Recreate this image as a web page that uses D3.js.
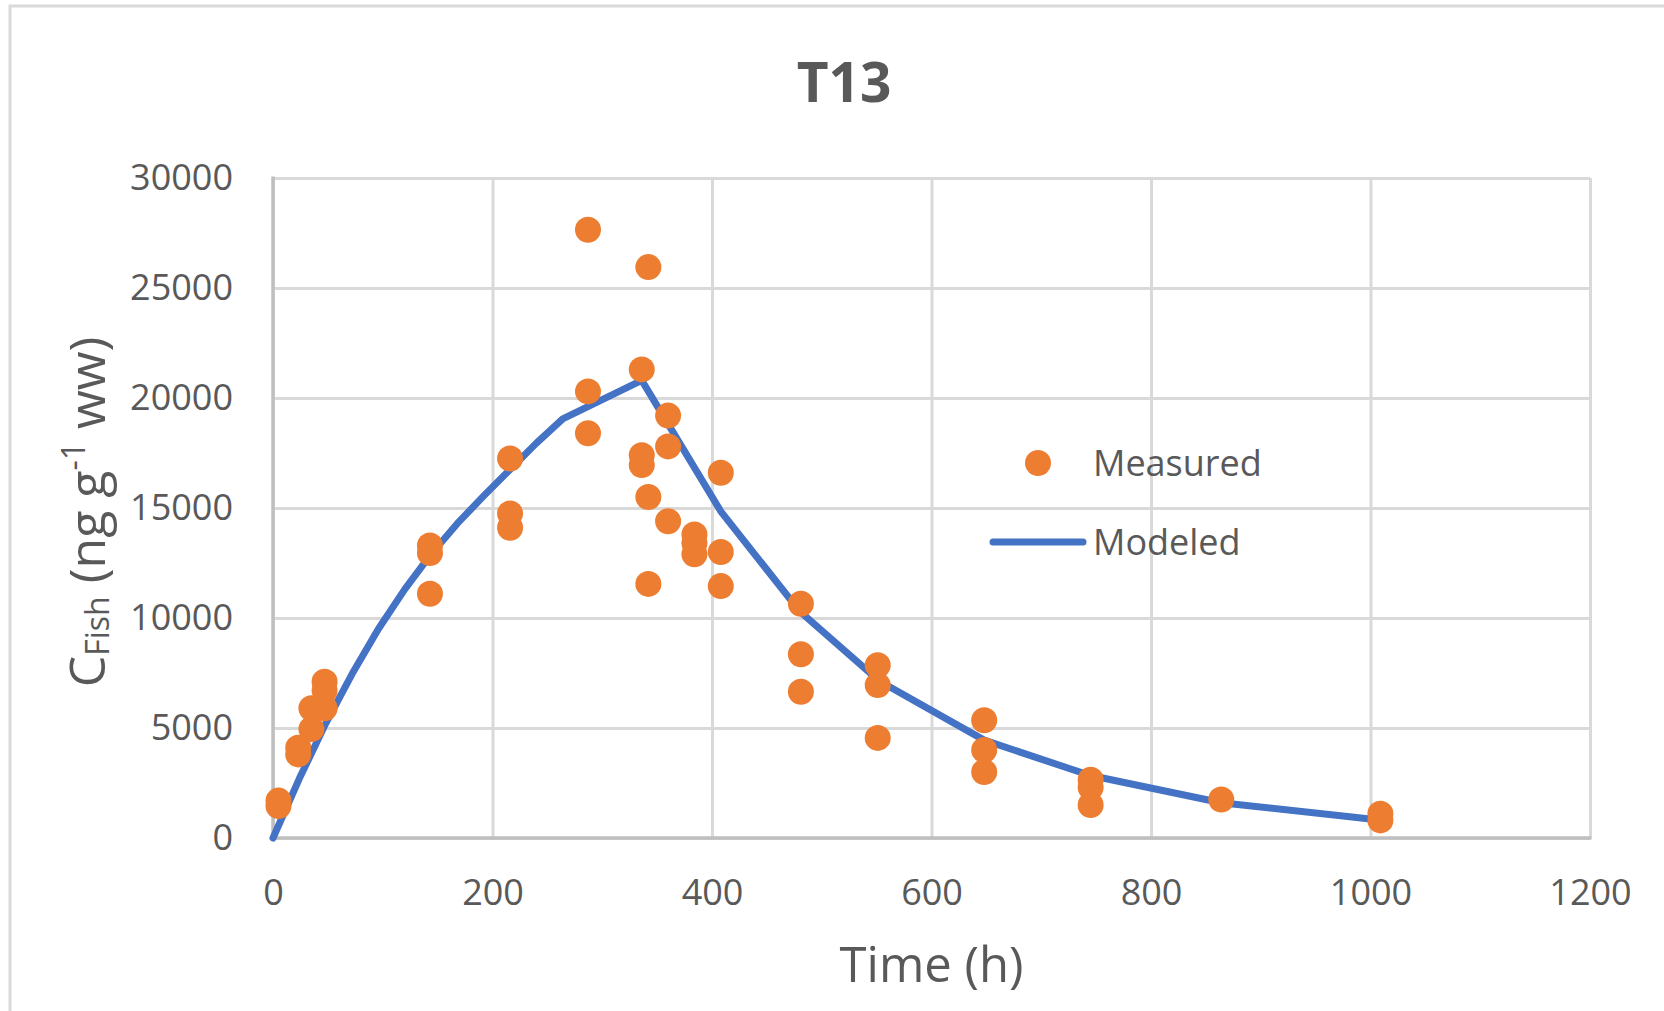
<!DOCTYPE html>
<html><head><meta charset="utf-8">
<script src="https://cdn.jsdelivr.net/npm/d3@7"></script>
<style>
body{margin:0;background:#fff;}
svg text{font-family:"Open Sans","Noto Sans",sans-serif;}
</style>
</head><body>
<svg id="chart" width="1664" height="1011"></svg>
<script>
// ---- data ----
const chartTitle = "T13";
const xAxisTitle = "Time (h)";
const xTicks = [0, 200, 400, 600, 800, 1000, 1200];
const yTicks = [0, 5000, 10000, 15000, 20000, 25000, 30000];
const seriesNames = ["Measured", "Modeled"];

const measuredTime = [5, 5, 23, 23, 35, 35, 47, 47, 47,
  143, 143, 143, 216, 216, 216, 287, 287, 287,
  336, 336, 336, 342, 342, 342, 360, 360, 360,
  384, 384, 384, 408, 408, 408, 481, 481, 481,
  551, 551, 551, 648, 648, 648, 745, 745, 745,
  864, 1009, 1009];
const measuredValue = [1700, 1450, 4100, 3800, 4950, 5900, 7100, 6700, 5900,
  13300, 12950, 11100, 17250, 14750, 14100, 27650, 20300, 18400,
  21300, 17400, 16950, 25950, 15500, 11550, 19200, 17800, 14400,
  13800, 13400, 12900, 16600, 13000, 11450, 10650, 8350, 6650,
  7850, 6950, 4550, 5350, 4000, 3000, 2650, 2300, 1500,
  1750, 1100, 800];

const modeledTime = [0, 24, 48, 72, 96, 120, 144, 168, 192, 216, 240, 264,
  336, 408, 480, 552, 648, 744, 864, 1008];
const modeledValue = [0, 2700, 5200, 7450, 9500, 11300, 12900, 14300, 15550, 16750, 17950, 19050,
  20800, 14850, 10300, 7150, 4450, 2850, 1600, 820];

// ---- layout ----
const svg = d3.select("#chart");
const pL = 273, pR = 1590, pT = 178, pB = 838;
const x = d3.scaleLinear().domain([0, 1200]).range([pL, pR]);
const y = d3.scaleLinear().domain([0, 30000]).range([pB, pT]);
const orange = "#ED7D31", blue = "#4472C4", textCol = "#595959";

// outer chart border
svg.append("rect").attr("x", 10).attr("y", 6).attr("width", 1700).attr("height", 1100)
  .attr("fill", "#fff").attr("stroke", "#D9D9D9").attr("stroke-width", 3);

// gridlines
const gy = svg.append("g").attr("transform", `translate(${pL},0)`)
  .call(d3.axisLeft(y).tickValues(yTicks).tickSize(-(pR - pL)).tickFormat(""));
gy.select(".domain").remove();
gy.selectAll("line").attr("stroke", "#D9D9D9").attr("stroke-width", 3);

const gx = svg.append("g").attr("transform", `translate(0,${pB})`)
  .call(d3.axisBottom(x).tickValues(xTicks).tickSize(-(pB - pT)).tickFormat(""));
gx.select(".domain").remove();
gx.selectAll("line").attr("stroke", "#D9D9D9").attr("stroke-width", 3);

// axis lines
svg.append("line").attr("x1", pL).attr("x2", pL).attr("y1", pT - 1.5).attr("y2", pB)
  .attr("stroke", "#BFBFBF").attr("stroke-width", 3.5);
svg.append("line").attr("x1", pL).attr("x2", pR + 1.5).attr("y1", pB).attr("y2", pB)
  .attr("stroke", "#BFBFBF").attr("stroke-width", 3.5);

// tick labels
const ylab = svg.append("g").attr("transform", `translate(${pL},0)`)
  .call(d3.axisLeft(y).tickValues(yTicks).tickSize(0).tickPadding(40).tickFormat(d3.format("d")));
ylab.select(".domain").remove();
ylab.selectAll("text").attr("font-size", 36).attr("fill", textCol)
  .attr("font-family", "'Open Sans', sans-serif").attr("dy", "0.32em");

const xlab = svg.append("g").attr("transform", `translate(0,${pB})`)
  .call(d3.axisBottom(x).tickValues(xTicks).tickSize(0).tickFormat(d3.format("d")));
xlab.select(".domain").remove();
xlab.selectAll("text").attr("font-size", 36).attr("fill", textCol)
  .attr("font-family", "'Open Sans', sans-serif").attr("y", 67).attr("dy", 0);

// modeled line
const modeled = modeledTime.map((t, i) => [t, modeledValue[i]]);
svg.append("path").datum(modeled)
  .attr("d", d3.line().x(d => x(d[0])).y(d => y(d[1])))
  .attr("fill", "none").attr("stroke", blue).attr("stroke-width", 7)
  .attr("stroke-linejoin", "round").attr("stroke-linecap", "round");

// measured points
const measured = measuredTime.map((t, i) => [t, measuredValue[i]]);
svg.append("g").selectAll("circle").data(measured).join("circle")
  .attr("cx", d => x(d[0])).attr("cy", d => y(d[1])).attr("r", 13)
  .attr("fill", orange);

// title
svg.append("text").attr("x", 844).attr("y", 102).attr("text-anchor", "middle")
  .attr("font-size", 55).attr("font-weight", "bold").attr("fill", textCol).text(chartTitle);

// x axis title
svg.append("text").attr("x", (pL + pR) / 2).attr("y", 982).attr("text-anchor", "middle")
  .attr("font-size", 49).attr("fill", textCol).text(xAxisTitle);

// y axis title with sub/superscript
const yt = svg.append("text").attr("transform", "translate(105,512) rotate(-90)")
  .attr("text-anchor", "middle").attr("font-size", 50).attr("fill", textCol);
yt.append("tspan").text("C");
yt.append("tspan").attr("font-size", 32).attr("dy", 4).text("Fish");
yt.append("tspan").attr("dy", -4).text(" (ng g");
yt.append("tspan").attr("font-size", 32).attr("dy", -20).text("-1");
yt.append("tspan").attr("dy", 20).text(" ww)");

// legend
const lg = svg.append("g");
lg.append("circle").attr("cx", 1038).attr("cy", 463).attr("r", 13).attr("fill", orange);
lg.append("text").attr("x", 1093).attr("y", 463).attr("dy", "0.36em").attr("font-size", 36)
  .attr("fill", textCol).text(seriesNames[0]);
lg.append("line").attr("x1", 993).attr("x2", 1083).attr("y1", 542).attr("y2", 542)
  .attr("stroke", blue).attr("stroke-width", 7).attr("stroke-linecap", "round");
lg.append("text").attr("x", 1093).attr("y", 542).attr("dy", "0.36em").attr("font-size", 36)
  .attr("fill", textCol).text(seriesNames[1]);
</script>
</body></html>
